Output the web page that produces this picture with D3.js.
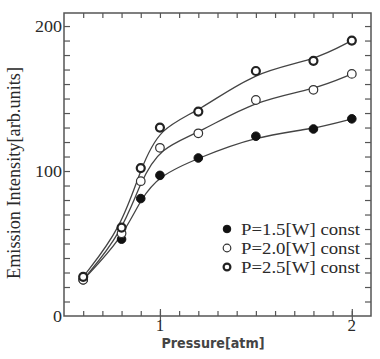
<!DOCTYPE html>
<html><head><meta charset="utf-8">
<script src="https://cdn.jsdelivr.net/npm/d3@7"></script>
<style>html,body{margin:0;padding:0;background:#fff;}svg{display:block;}</style>
</head><body>
<script>
const pressure = [0.6, 0.8, 0.9, 1.0, 1.2, 1.5, 1.8, 2.0];
const p15 = [25, 53, 81, 97, 109, 124, 129, 136];
const p20 = [25, 57, 93, 116, 126, 149, 156, 167];
const p25 = [27, 61, 102, 130, 141, 169, 176, 190];
const seriesNames = ["P=1.5[W] const", "P=2.0[W] const", "P=2.5[W] const"];
const xTickLabels = ["1", "2"];
const yTickLabels = ["0", "100", "200"];

const W = 380, H = 359;
const m = {l: 64, r: 9, t: 13, b: 43};
const svg = d3.select("body").append("svg").attr("width", W).attr("height", H);
const x = d3.scaleLinear().domain([0.5, 2.1]).range([m.l, W - m.r]);
const y = d3.scaleLinear().domain([0, 209]).range([H - m.b, m.t]);
const ink = "#2a2a2a";

svg.append("rect").attr("x", x(0.5)).attr("y", y(209)).attr("width", x(2.1) - x(0.5)).attr("height", y(0) - y(209))
  .attr("fill", "none").attr("stroke", "#555").attr("stroke-width", 1.5);

const xMinor = d3.range(6, 21).map(d => d / 10);
svg.append("g").attr("transform", `translate(0,${y(0)})`)
  .call(d3.axisBottom(x).tickValues(xMinor).tickSize(-5).tickFormat(""));
svg.append("g").attr("transform", `translate(0,${y(209)})`)
  .call(d3.axisTop(x).tickValues(xMinor).tickSize(-5).tickFormat(""));
svg.append("g").attr("transform", `translate(0,${y(0)})`)
  .call(d3.axisBottom(x).tickValues([1, 2]).tickSize(5).tickFormat(""));
svg.append("g").attr("transform", `translate(0,${y(0)})`)
  .call(d3.axisBottom(x).tickValues([1, 2]).tickSize(-7).tickFormat(""));
const yMinor = d3.range(10, 201, 10);
svg.append("g").attr("transform", `translate(${x(0.5)},0)`)
  .call(d3.axisLeft(y).tickValues(yMinor).tickSize(-6).tickFormat(""));
svg.append("g").attr("transform", `translate(${x(2.1)},0)`)
  .call(d3.axisRight(y).tickValues(yMinor).tickSize(-6).tickFormat(""));
svg.selectAll(".domain").remove();
svg.selectAll(".tick line").attr("stroke", "#555").attr("stroke-width", 1.2);

const serif = "'Liberation Serif', 'DejaVu Serif', serif";
svg.append("g").selectAll("text").data(yTickLabels).join("text")
  .attr("x", x(0.5) - 2).attr("y", d => y(+d) + 6)
  .attr("text-anchor", "end").attr("font-family", serif).attr("font-size", 17)
  .attr("fill", ink).attr("textLength", d => d.length * 9).attr("lengthAdjust", "spacingAndGlyphs")
  .text(d => d);
svg.append("g").selectAll("text").data(xTickLabels).join("text")
  .attr("x", d => x(+d)).attr("y", y(0) + 15)
  .attr("text-anchor", "middle").attr("font-family", serif).attr("font-size", 17)
  .attr("fill", ink).text(d => d);

svg.append("text").attr("transform", `translate(20,173) rotate(-90)`)
  .attr("text-anchor", "middle").attr("font-family", serif).attr("font-size", 18)
  .attr("fill", ink).attr("textLength", 212).attr("lengthAdjust", "spacingAndGlyphs")
  .text("Emission Intensity[arb.units]");
svg.append("text").attr("x", 213).attr("y", 348)
  .attr("text-anchor", "middle").attr("font-family", "'DejaVu Sans', sans-serif").attr("font-size", 14)
  .attr("font-weight", "bold").attr("fill", "#444").attr("textLength", 103).attr("lengthAdjust", "spacingAndGlyphs")
  .text("Pressure[atm]");

const series = [p15, p20, p25];
const styles = [
  {fill: "#111", stroke: "#111", sw: 1},
  {fill: "#fff", stroke: "#333", sw: 1.2},
  {fill: "#fff", stroke: "#222", sw: 2.2}
];
const line = d3.line().x(d => x(d[0])).y(d => y(d[1])).curve(d3.curveBasis);
series.forEach((vals, i) => {
  const pts = pressure.map((p, j) => [p, vals[j]]);
  svg.append("path").attr("d", line(pts)).attr("fill", "none").attr("stroke", "#444").attr("stroke-width", 1.3);
});
series.forEach((vals, i) => {
  const pts = pressure.map((p, j) => [p, vals[j]]);
  svg.append("g").selectAll("circle").data(pts).join("circle")
    .attr("cx", d => x(d[0])).attr("cy", d => y(d[1])).attr("r", i === 2 ? 4 : 4.3)
    .attr("fill", styles[i].fill).attr("stroke", styles[i].stroke).attr("stroke-width", styles[i].sw);
});

const leg = svg.append("g");
seriesNames.forEach((name, i) => {
  const yy = 229 + i * 19;
  leg.append("circle").attr("cx", 227).attr("cy", yy).attr("r", i === 2 ? 3.4 : 3.8)
    .attr("fill", styles[i].fill).attr("stroke", styles[i].stroke).attr("stroke-width", styles[i].sw);
  leg.append("text").attr("x", 241).attr("y", yy + 5.5).attr("font-family", serif).attr("font-size", 16)
    .attr("fill", ink).attr("textLength", 119).attr("lengthAdjust", "spacingAndGlyphs").text(name);
});
</script>
</body></html>
